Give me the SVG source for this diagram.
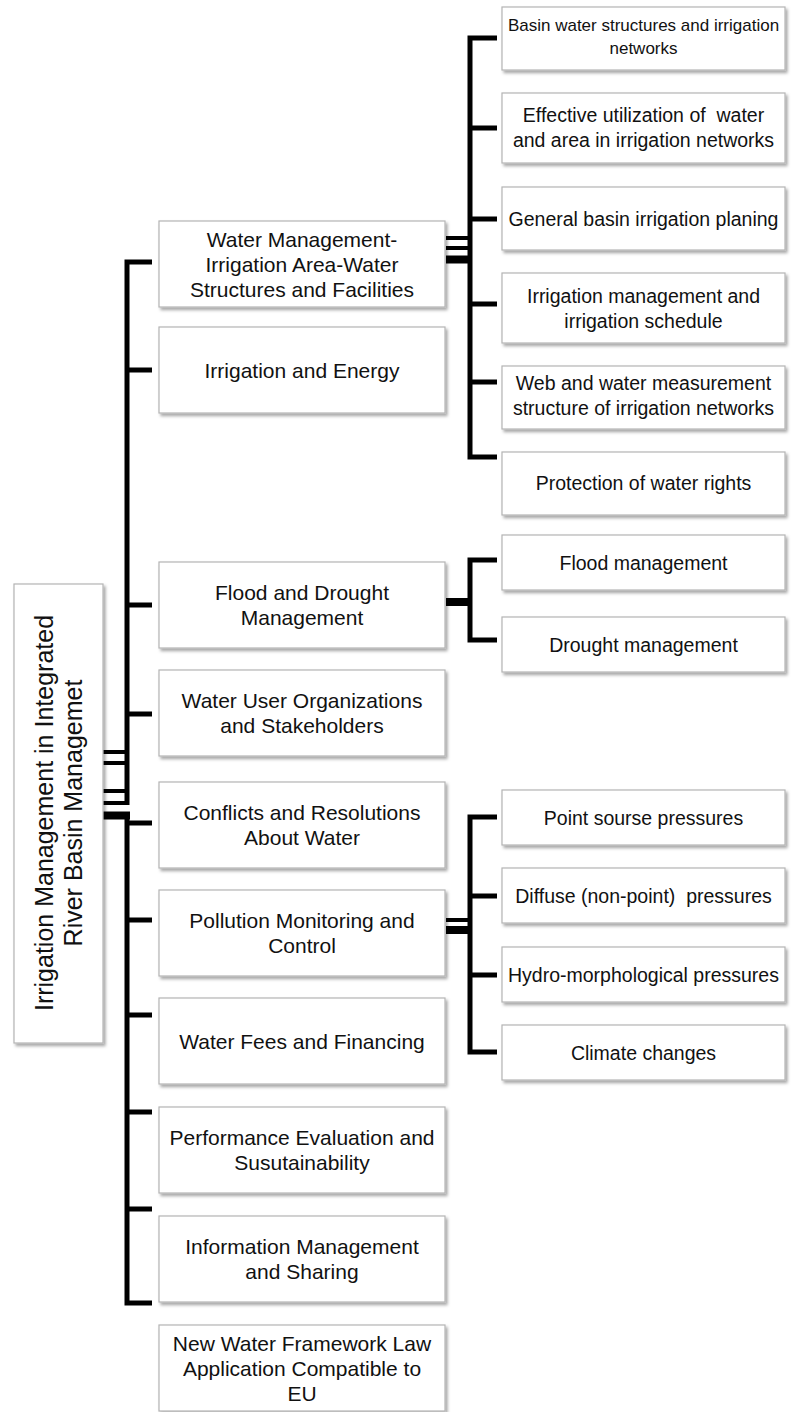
<svg xmlns="http://www.w3.org/2000/svg" width="792" height="1412" viewBox="0 0 792 1412">
<defs>
<filter id="sh" x="-10%" y="-10%" width="125%" height="125%">
<feDropShadow dx="2" dy="2.5" stdDeviation="1.5" flood-color="#000" flood-opacity="0.35"/>
</filter>
<style>
.box{fill:#fff;stroke:#b4b4b4;stroke-width:1.2;filter:url(#sh)}
.t{font-family:"Liberation Sans",Arial,sans-serif;fill:#111;text-anchor:middle;white-space:pre}
.l1{font-size:21px}
.l2{font-size:19.5px}
.l2s{font-size:17px}
.root{font-size:25px}
.c{fill:none;stroke:#000;stroke-width:5;stroke-linejoin:miter;stroke-linecap:butt}
.ct{fill:none;stroke:#000;stroke-width:4}
.ck{fill:none;stroke:#000;stroke-width:8}
</style>
</defs>
<rect width="792" height="1412" fill="#fff"/>

<g id="connectors">
<path class="ct" d="M103 752 H129 M103 763 H129 M103 791 H129 M103 803 H129"/>
<path class="ck" d="M103 815.5 H130"/>
<path class="c" d="M152 262 H127 V805"/>
<path class="c" d="M127 370 H152 M127 605 H152 M127 714 H152"/>
<path class="c" d="M127 812 V1303 H152"/>
<path class="c" d="M127 823 H152 M127 920 H152 M127 1015 H152 M127 1112 H152 M127 1209 H152"/>
<path class="ct" d="M446 238 H472 M446 248 H472"/>
<path class="ck" d="M446 259.5 H472"/>
<path class="c" d="M497 38 H470 V457 H497"/>
<path class="c" d="M470 128 H497 M470 219 H497 M470 304 H497 M470 382 H497"/>
<path class="ck" d="M446 602 H472"/>
<path class="c" d="M497 560 H470 V640 H497"/>
<path class="ct" d="M446 920 H472"/>
<path class="ck" d="M446 930 H472"/>
<path class="c" d="M497 817 H470 V1052 H497"/>
<path class="c" d="M470 896 H497 M470 975 H497"/>
</g>

<g id="root">
<rect class="box" x="14" y="584" width="89" height="459"/>
<text class="t root" transform="translate(53 813) rotate(-90)">Irrigation Management in Integrated</text>
<text class="t root" transform="translate(82 813) rotate(-90)">River Basin Managemet</text>
</g>

<g id="n-water-management">
<rect class="box" x="159" y="221" width="286" height="86"/>
<text class="t l1" x="302" y="246.5">Water Management-</text>
<text class="t l1" x="302" y="271.5">Irrigation Area-Water</text>
<text class="t l1" x="302" y="296.5">Structures and Facilities</text>
</g>
<g id="n-irrigation-energy">
<rect class="box" x="159" y="327" width="286" height="86"/>
<text class="t l1" x="302" y="377.5">Irrigation and Energy</text>
</g>
<g id="n-flood-drought">
<rect class="box" x="159" y="562" width="286" height="86"/>
<text class="t l1" x="302" y="600">Flood and Drought</text>
<text class="t l1" x="302" y="625">Management</text>
</g>
<g id="n-water-user">
<rect class="box" x="159" y="670" width="286" height="86"/>
<text class="t l1" x="302" y="708">Water User Organizations</text>
<text class="t l1" x="302" y="733">and Stakeholders</text>
</g>
<g id="n-conflicts">
<rect class="box" x="159" y="782" width="286" height="86"/>
<text class="t l1" x="302" y="820">Conflicts and Resolutions</text>
<text class="t l1" x="302" y="845">About Water</text>
</g>
<g id="n-pollution">
<rect class="box" x="159" y="890" width="286" height="86"/>
<text class="t l1" x="302" y="928">Pollution Monitoring and</text>
<text class="t l1" x="302" y="953">Control</text>
</g>
<g id="n-water-fees">
<rect class="box" x="159" y="998" width="286" height="86"/>
<text class="t l1" x="302" y="1048.5">Water Fees and Financing</text>
</g>
<g id="n-performance">
<rect class="box" x="159" y="1107" width="286" height="86"/>
<text class="t l1" x="302" y="1145">Performance Evaluation and</text>
<text class="t l1" x="302" y="1170">Susutainability</text>
</g>
<g id="n-information">
<rect class="box" x="159" y="1216" width="286" height="86"/>
<text class="t l1" x="302" y="1254">Information Management</text>
<text class="t l1" x="302" y="1279">and Sharing</text>
</g>
<g id="n-new-law">
<rect class="box" x="159" y="1325" width="286" height="86"/>
<text class="t l1" x="302" y="1350.5">New Water Framework Law</text>
<text class="t l1" x="302" y="1375.5">Application Compatible to</text>
<text class="t l1" x="302" y="1400.5">EU</text>
</g>

<g id="n-basin-structures">
<rect class="box" x="502" y="7" width="283" height="63"/>
<text class="t l2s" x="643.5" y="31">Basin water structures and irrigation</text>
<text class="t l2s" x="643.5" y="54">networks</text>
</g>
<g id="n-effective-utilization">
<rect class="box" x="502" y="93" width="283" height="70"/>
<text class="t l2" x="643.5" y="122" xml:space="preserve">Effective utilization of  water</text>
<text class="t l2" x="643.5" y="147">and area in irrigation networks</text>
</g>
<g id="n-general-planning">
<rect class="box" x="502" y="187" width="283" height="63"/>
<text class="t l2" x="643.5" y="225.5">General basin irrigation planing</text>
</g>
<g id="n-irrigation-schedule">
<rect class="box" x="502" y="273" width="283" height="70"/>
<text class="t l2" x="643.5" y="302.5">Irrigation management and</text>
<text class="t l2" x="643.5" y="327.5">irrigation schedule</text>
</g>
<g id="n-web-measurement">
<rect class="box" x="502" y="366" width="283" height="63"/>
<text class="t l2" x="643.5" y="390">Web and water measurement</text>
<text class="t l2" x="643.5" y="415">structure of irrigation networks</text>
</g>
<g id="n-water-rights">
<rect class="box" x="502" y="452" width="283" height="63"/>
<text class="t l2" x="643.5" y="490">Protection of water rights</text>
</g>

<g id="n-flood-management">
<rect class="box" x="502" y="535" width="283" height="55"/>
<text class="t l2" x="643.5" y="569.5">Flood management</text>
</g>
<g id="n-drought-management">
<rect class="box" x="502" y="617" width="283" height="55"/>
<text class="t l2" x="643.5" y="651.5">Drought management</text>
</g>

<g id="n-point-source">
<rect class="box" x="502" y="790" width="283" height="55"/>
<text class="t l2" x="643.5" y="824.5">Point sourse pressures</text>
</g>
<g id="n-diffuse">
<rect class="box" x="502" y="868" width="283" height="55"/>
<text class="t l2" x="643.5" y="902.5" xml:space="preserve">Diffuse (non-point)  pressures</text>
</g>
<g id="n-hydro">
<rect class="box" x="502" y="947" width="283" height="55"/>
<text class="t l2" x="643.5" y="981.5">Hydro-morphological pressures</text>
</g>
<g id="n-climate">
<rect class="box" x="502" y="1025" width="283" height="55"/>
<text class="t l2" x="643.5" y="1059.5">Climate changes</text>
</g>
</svg>
